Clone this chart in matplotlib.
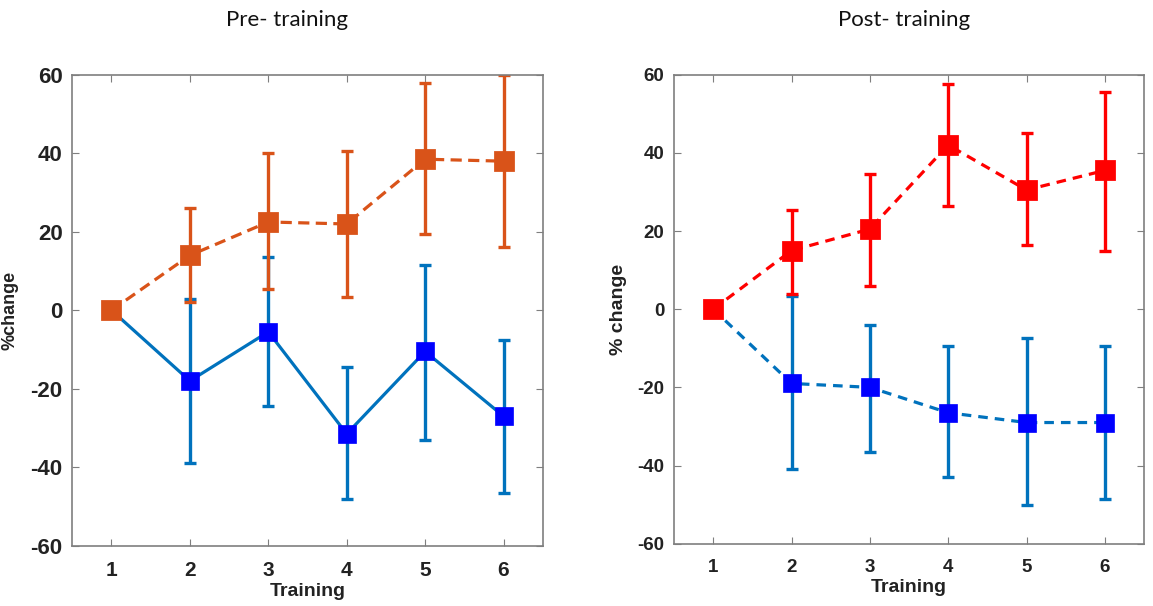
import numpy as np
import matplotlib.pyplot as plt

training = [1, 2, 3, 4, 5, 6]

# Pre-training
pre_orange = [0, 14, 22.5, 22, 38.5, 38]
pre_orange_lo = [0, 2, 5.5, 3.5, 19.5, 16]
pre_orange_hi = [0, 26, 40, 40.5, 58, 60]
pre_blue = [0, -18, -5.5, -31.5, -10.5, -27]
pre_blue_lo = [0, -39, -24.5, -48, -33, -46.5]
pre_blue_hi = [0, 3, 13.5, -14.5, 11.5, -7.5]

# Post-training
post_red = [0, 15, 20.5, 42, 30.5, 35.5]
post_red_lo = [0, 4, 6, 26.5, 16.5, 15]
post_red_hi = [0, 25.5, 34.5, 57.5, 45, 55.5]
post_blue = [0, -19, -20, -26.5, -29, -29]
post_blue_lo = [0, -41, -36.5, -43, -50, -48.5]
post_blue_hi = [0, 3.5, -4, -9.5, -7.5, -9.5]

ORANGE = '#D95319'
LBLUE = '#0072BD'
RED = '#FF0000'
BLUE = '#0000FF'
GREY = '#7f7f7f'


def draw_series(ax, x, y, lo, hi, line_color, marker_color, ls, mew=1.0):
    y = np.array(y)
    err = np.array([y - np.array(lo), np.array(hi) - y])
    # no error bar at the baseline session
    ax.errorbar(x[1:], y[1:], yerr=err[:, 1:], fmt='none', ecolor=line_color,
                elinewidth=2.4, capsize=4, capthick=2.4, zorder=2)
    ax.plot(x, y, color=line_color, linestyle=ls, linewidth=2.3, zorder=3)
    ax.plot(x, y, linestyle='none', marker='s', markersize=13, markeredgewidth=mew,
            markerfacecolor=marker_color, markeredgecolor=marker_color, zorder=4)


def style_axes(ax, tick_size, xtick_size, ylabel, ylabel_size):
    ax.set_xlim(0.5, 6.5)
    ax.set_ylim(-60, 60)
    ax.set_xticks(training)
    ax.set_yticks(np.arange(-60, 61, 20))
    for s in ax.spines.values():
        s.set_color(GREY)
        s.set_linewidth(1.2)
    ax.tick_params(direction='in', length=5, color=GREY, top=True, right=True)
    ax.tick_params(axis='x', pad=11)
    ax.tick_params(axis='y', pad=7)
    for lab in ax.get_yticklabels():
        lab.set_fontsize(tick_size)
        lab.set_fontweight('bold')
        lab.set_color('#222222')
    for lab in ax.get_xticklabels():
        lab.set_fontsize(xtick_size)
        lab.set_fontweight('bold')
        lab.set_color('#222222')
    ax.set_xlabel('Training', fontsize=14, fontweight='bold', color='#222222', labelpad=2)
    ax.set_ylabel(ylabel, fontsize=ylabel_size, fontweight='bold', color='#222222')


plt.rcParams['font.family'] = ['Liberation Sans', 'DejaVu Sans']
plt.rcParams['axes.unicode_minus'] = False

fig = plt.figure(figsize=(11.53, 6.06), dpi=100)

ax1 = fig.add_axes([0.0627, 0.0995, 0.408, 0.777])
draw_series(ax1, training, pre_blue, pre_blue_lo, pre_blue_hi, LBLUE, BLUE, '-', mew=0.5)
draw_series(ax1, training, pre_orange, pre_orange_lo, pre_orange_hi, ORANGE, ORANGE, (0, (3.5, 2)), mew=2)
style_axes(ax1, 16, 15, '%change', 13)
ax1.yaxis.set_label_coords(-0.115, 0.5)

ax2 = fig.add_axes([0.5846, 0.1028, 0.4076, 0.774])
draw_series(ax2, training, post_blue, post_blue_lo, post_blue_hi, LBLUE, BLUE, (0, (3, 2.2)), mew=0.5)
draw_series(ax2, training, post_red, post_red_lo, post_red_hi, RED, RED, (0, (3, 2.2)), mew=2)
style_axes(ax2, 13.5, 13.5, '% change', 14)
ax2.yaxis.set_label_coords(-0.1, 0.5)

fig.text(287 / 1153, 1 - 20 / 606, 'Pre- training', ha='center', va='center',
         fontsize=16, family=['Lato', 'DejaVu Sans'], color='#111111')
fig.text(904 / 1153, 1 - 20 / 606, 'Post- training', ha='center', va='center',
         fontsize=16, family=['Lato', 'DejaVu Sans'], color='#111111')

fig.savefig('out.png', dpi=100)
